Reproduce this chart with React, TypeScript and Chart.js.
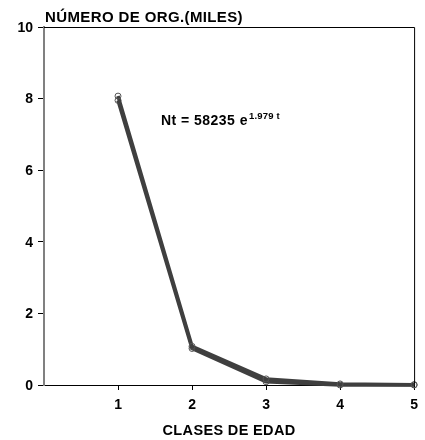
import React, { useEffect, useRef } from "react";
import { Chart, registerables } from "chart.js";

Chart.register(...registerables);

const ageClasses = [1, 2, 3, 4, 5];
const observed = [8.07, 1.08, 0.17, 0.03, 0.01];
const fitted = [7.95, 1.02, 0.09, 0.0, 0.0];
const yTickValues = [0, 2, 4, 6, 8, 10];
const xTickValues = [1, 2, 3, 4, 5];
const yTitle = "NÚMERO DE ORG.(MILES)";
const xTitle = "CLASES DE EDAD";
const eqMain = "Nt = 58235 e";
const eqSup = "1.979 t";
const eqAt = { x: 1.58, y: 7.26 };

const FONT = "Arial, 'Liberation Sans', sans-serif";

function fitText(ctx: any, text: string, x: number, y: number, target: number, align: "left" | "center") {
  ctx.letterSpacing = "0px";
  const w = ctx.measureText(text).width;
  const sp = Math.max(-1, (target - w) / text.length);
  ctx.letterSpacing = `${sp}px`;
  const total = w + sp * text.length;
  const sx = align === "center" ? x - total / 2 : x;
  ctx.textAlign = "left";
  ctx.fillText(text, sx, y);
  ctx.letterSpacing = "0px";
  return total;
}

const decorPlugin = {
  id: "decor",
  afterDraw(chart: any) {
    const { ctx, chartArea } = chart;
    const { left, right, top, bottom } = chartArea;
    ctx.save();
    ctx.strokeStyle = "#000";
    ctx.lineWidth = 1;
    ctx.beginPath();
    ctx.moveTo(left, top + 0.5);
    ctx.lineTo(right + 0.5, top + 0.5);
    ctx.lineTo(right + 0.5, bottom);
    ctx.stroke();

    ctx.fillStyle = "#000";
    const ys = chart.scales.y;
    const xs = chart.scales.x;

    // y tick labels
    ctx.font = `bold 14px ${FONT}`;
    ctx.textAlign = "right";
    ctx.textBaseline = "middle";
    (ctx as any).letterSpacing = "0px";
    yTickValues.forEach((v) => {
      ctx.fillText(String(v), 33, ys.getPixelForValue(v) + 1);
    });

    ctx.textBaseline = "alphabetic";
    ctx.font = `bold 15px ${FONT}`;
    fitText(ctx, yTitle, 45, 22, 198, "left");

    ctx.font = `bold 14.5px ${FONT}`;
    fitText(ctx, xTitle, (left + right) / 2, 435, 133, "center");

    const ex = xs.getPixelForValue(eqAt.x);
    const ey = ys.getPixelForValue(eqAt.y);
    ctx.font = `bold 14px ${FONT}`;
    const w = fitText(ctx, eqMain, ex, ey, 87, "left");
    ctx.font = `bold 9.5px ${FONT}`;
    fitText(ctx, eqSup, ex + w + 1, ey - 6, 31, "left");
    ctx.restore();
  },
};

export default function App() {
  const ref = useRef<HTMLCanvasElement | null>(null);
  useEffect(() => {
    document.body.style.margin = "0";
    const canvas = ref.current;
    if (!canvas) return;
    const lineStyle = {
      borderColor: "#3f3f3f",
      borderWidth: 3.5,
      pointRadius: 3,
      pointHoverRadius: 3,
      pointStyle: "circle",
      pointBorderColor: "#555",
      pointBackgroundColor: "rgba(0,0,0,0)",
      pointBorderWidth: 1,
      fill: false,
      tension: 0,
      clip: false as any,
    };
    const chart = new Chart(canvas, {
      type: "line",
      data: {
        datasets: [
          {
            label: "Observado",
            data: ageClasses.map((c, i) => ({ x: c, y: observed[i] })),
            ...lineStyle,
          },
          {
            label: "Ajustado",
            data: ageClasses.map((c, i) => ({ x: c, y: fitted[i] })),
            ...lineStyle,
          },
        ],
      },
      options: {
        animation: false,
        responsive: false,
        devicePixelRatio: 1,
        layout: { padding: { top: 27, right: 2, left: 0, bottom: 0 } },
        plugins: {
          legend: { display: false },
          tooltip: { enabled: false },
          title: { display: false },
        },
        scales: {
          x: {
            type: "linear",
            min: 0,
            max: 5,
            afterBuildTicks: (s: any) => {
              s.ticks = xTickValues.map((v) => ({ value: v }));
            },
            afterFit: (s: any) => {
              s.height = 55;
            },
            grid: {
              drawOnChartArea: false,
              drawTicks: true,
              tickLength: 5,
              color: "#000",
            },
            border: { color: "#000", width: 1 },
            ticks: {
              color: "#000",
              padding: 7,
              maxRotation: 0,
              font: { family: FONT, size: 14, weight: "bold" },
            },
          },
          y: {
            type: "linear",
            min: 0,
            max: 10,
            afterBuildTicks: (s: any) => {
              s.ticks = yTickValues.map((v) => ({ value: v }));
            },
            afterFit: (s: any) => {
              s.width = 44;
            },
            grid: {
              drawOnChartArea: false,
              drawTicks: true,
              tickLength: 6,
              color: "#000",
            },
            border: { color: "#808080", width: 2 },
            ticks: {
              color: "rgba(0,0,0,0)",
              padding: 5,
              font: { family: FONT, size: 14, weight: "bold" },
            },
          },
        },
      },
      plugins: [decorPlugin],
    } as any);
    return () => chart.destroy();
  }, []);
  return (
    <div style={{ position: "absolute", left: 0, top: 0, width: 425, height: 440, background: "#fff" }}>
      <canvas ref={ref} width={425} height={440} style={{ display: "block", width: 425, height: 440 }} />
    </div>
  );
}
